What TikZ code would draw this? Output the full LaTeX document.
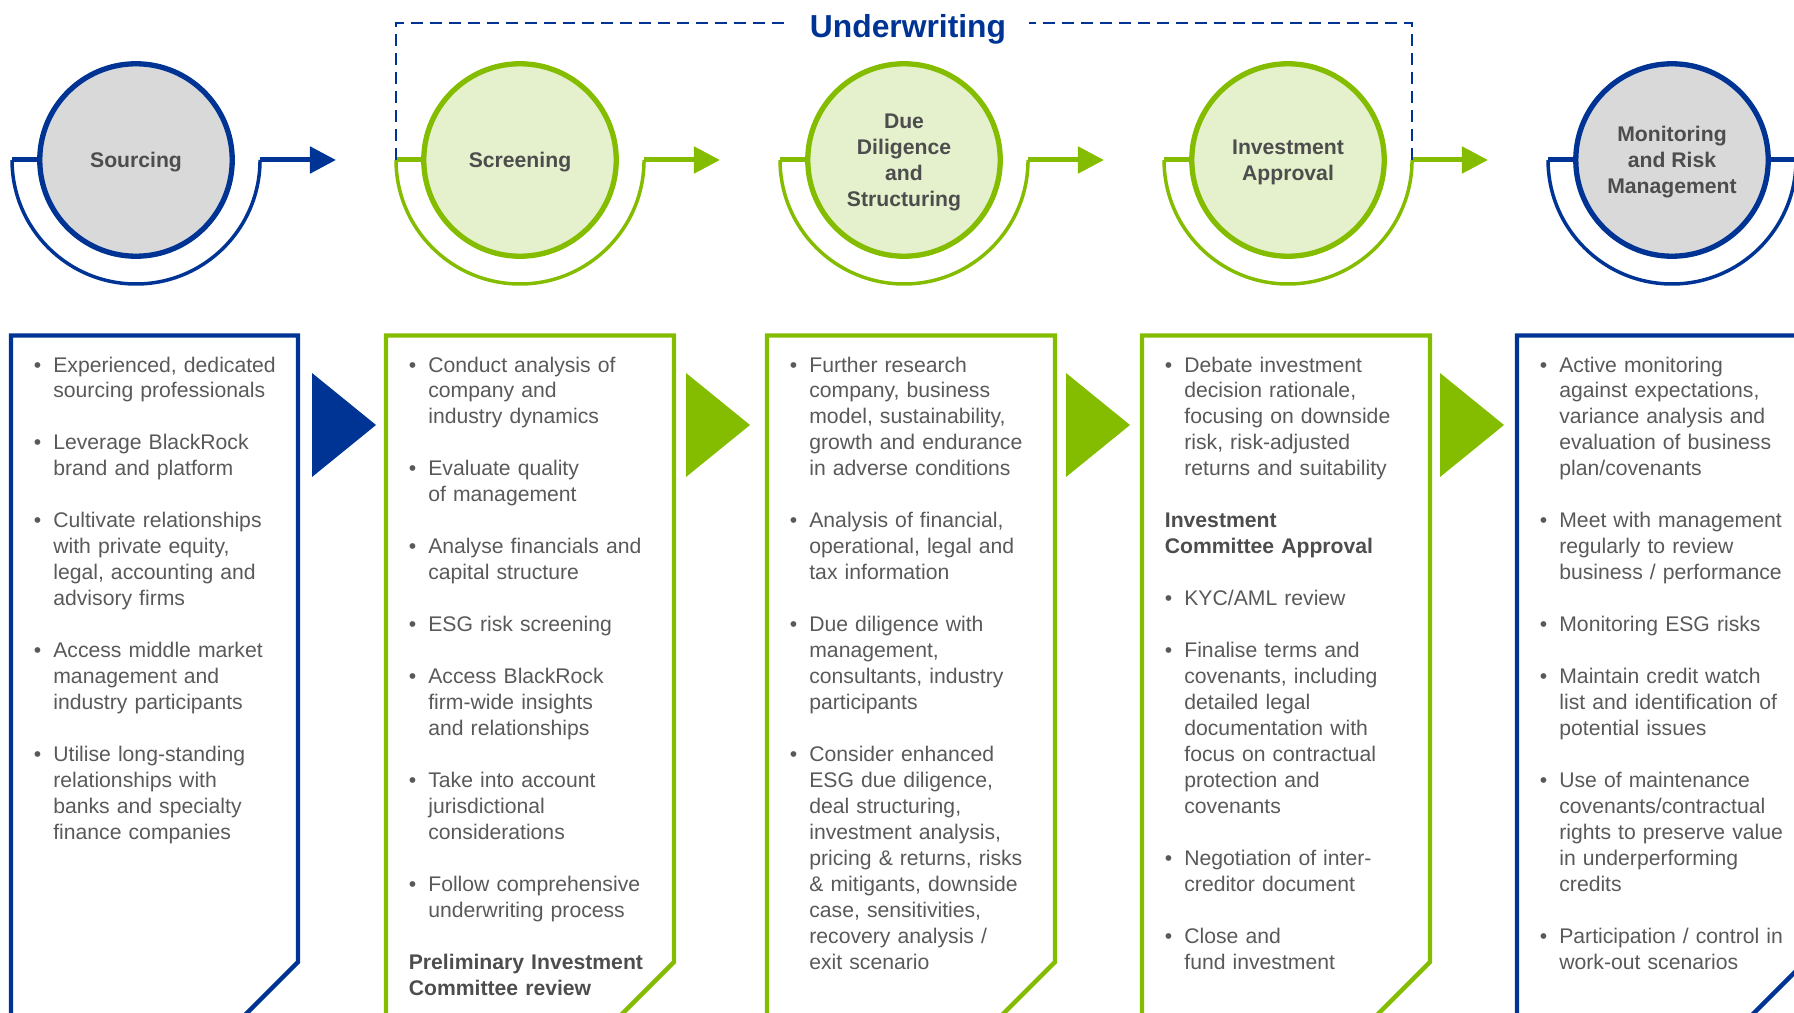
\documentclass[tikz,border=0pt]{standalone}
\usepackage{fontspec}
\setmainfont{Liberation Sans}
\usetikzlibrary{arrows.meta}

\definecolor{navy}{RGB}{0,52,148}
\definecolor{lime}{RGB}{132,189,0}
\definecolor{limefill}{RGB}{229,241,204}
\definecolor{greyfill}{RGB}{217,217,217}
\definecolor{bodygrey}{RGB}{89,89,89}
\definecolor{labelgrey}{RGB}{77,77,77}

\newcommand*{\bodyfont}{\fontsize{12.05}{14.78}\selectfont}
\newcommand*{\titlefont}{\fontsize{18.1}{21}\selectfont\bfseries}
\newcommand*{\bul}[1]{\hangindent=0.39cm\hangafter=1\noindent\makebox[0.39cm][l]{\textbullet}#1\par}
\newcommand*{\hed}[1]{\noindent{\bfseries\color{labelgrey}#1}\par}

\tikzstyle{canvas}=[x=0.02cm, y=0.02cm]
\tikzstyle{stage}=[circle, minimum size=3.85cm, inner sep=0pt, text depth=0pt, line width=0.106cm, font=\bodyfont\bfseries, text=labelgrey, align=center]
\tikzstyle{bluestage}=[stage, draw=navy, fill=greyfill]
\tikzstyle{greenstage}=[stage, draw=lime, fill=limefill]
\tikzstyle{shoe}=[line width=0.07cm]
\tikzstyle{hbar}=[line width=0.1cm]
\tikzstyle{headarrow}=[-{Triangle[length=0.52cm,width=0.52cm]}]
\tikzstyle{panel}=[line width=0.086cm]
\tikzstyle{bracket}=[navy, line width=0.04cm, dash pattern=on 0.24cm off 0.14cm]
\tikzstyle{bullets}=[anchor=base west, inner sep=0pt, text width=5.4cm, align=left, font=\bodyfont, text=bodygrey, execute at begin node={\setlength{\parskip}{14.78pt}}]

\begin{document}
\begin{tikzpicture}[canvas]
    \useasboundingbox (0,0) rectangle (1794,-1013);

    \node [bluestage] (src) at (136,-160) {Sourcing};
    \node [greenstage] (scr) at (520,-160) {Screening};
    \node [greenstage] (dd) at (904,-160) {Due\\Diligence\\and\\Structuring};
    \node [greenstage] (ia) at (1288,-160) {Investment\\Approval};
    \node [bluestage] (mon) at (1672,-160) {Monitoring\\and Risk\\Management};

    \draw [shoe, navy] ([xshift=-2.48cm]src.center) arc [start angle=180, end angle=360, radius=124];
    \draw [hbar, navy] ([xshift=-2.48cm]src.center) -- (src.west);
    \draw [hbar, navy, headarrow] ([xshift=2.48cm]src.center) -- ([xshift=4cm]src.center);

    \draw [shoe, lime] ([xshift=-2.48cm]scr.center) arc [start angle=180, end angle=360, radius=124];
    \draw [hbar, lime] ([xshift=-2.48cm]scr.center) -- (scr.west);
    \draw [hbar, lime, headarrow] ([xshift=2.48cm]scr.center) -- ([xshift=4cm]scr.center);

    \draw [shoe, lime] ([xshift=-2.48cm]dd.center) arc [start angle=180, end angle=360, radius=124];
    \draw [hbar, lime] ([xshift=-2.48cm]dd.center) -- (dd.west);
    \draw [hbar, lime, headarrow] ([xshift=2.48cm]dd.center) -- ([xshift=4cm]dd.center);

    \draw [shoe, lime] ([xshift=-2.48cm]ia.center) arc [start angle=180, end angle=360, radius=124];
    \draw [hbar, lime] ([xshift=-2.48cm]ia.center) -- (ia.west);
    \draw [hbar, lime, headarrow] ([xshift=2.48cm]ia.center) -- ([xshift=4cm]ia.center);

    \draw [shoe, navy] ([xshift=-2.48cm]mon.center) arc [start angle=180, end angle=360, radius=124];
    \draw [hbar, navy] ([xshift=-2.48cm]mon.center) -- (mon.west);
    \draw [hbar, navy] (mon.east) -- ([xshift=2.6cm]mon.center);

    \node [font=\titlefont, text=navy, inner xsep=0.45cm, inner ysep=0pt, anchor=base] (uw) at (908,-37.5) {Underwriting};
    \coordinate (uwtop) at (0,-23);
    \draw [bracket] ([xshift=-2.48cm]scr.center) |- (uw.west |- uwtop);
    \draw [bracket] ([xshift=2.48cm]ia.center) |- (uw.east |- uwtop);

    \draw [panel, navy] (11,-1040) |- (298,-335.5) -- (298,-962) -- ++(-80,-80);
    \draw [panel, lime] (386,-1040) |- (674,-335.5) -- (674,-962) -- ++(-80,-80);
    \draw [panel, lime] (767,-1040) |- (1055,-335.5) -- (1055,-962) -- ++(-80,-80);
    \draw [panel, lime] (1142,-1040) |- (1430,-335.5) -- (1430,-962) -- ++(-80,-80);
    \draw [panel, navy] (1517,-1040) |- (1805,-335.5) -- (1805,-962) -- ++(-80,-80);

    \fill [navy] (312,-373) -- (376,-425) -- (312,-477) -- cycle;
    \fill [lime] (686,-373) -- (750,-425) -- (686,-477) -- cycle;
    \fill [lime] (1066,-373) -- (1130,-425) -- (1066,-477) -- cycle;
    \fill [lime] (1440,-373) -- (1504,-425) -- (1440,-477) -- cycle;

    \node [bullets] (srctxt) at (33.5,-372) {%
        \bul{Experienced, dedicated\newline sourcing professionals}
        \bul{Leverage BlackRock\newline brand and platform}
        \bul{Cultivate relationships\newline with private equity,\newline legal, accounting and\newline advisory firms}
        \bul{Access middle market\newline management and\newline industry participants}
        \bul{Utilise long-standing\newline relationships with\newline banks and specialty\newline finance companies}};

    \node [bullets] (scrtxt) at (408.5,-372) {%
        \bul{Conduct analysis of\newline company and\newline industry dynamics}
        \bul{Evaluate quality\newline of management}
        \bul{Analyse financials and\newline capital structure}
        \bul{ESG risk screening}
        \bul{Access BlackRock\newline firm-wide insights\newline and relationships}
        \bul{Take into account\newline jurisdictional\newline considerations}
        \bul{Follow comprehensive\newline underwriting process}
        \hed{Preliminary Investment\newline Committee review}};

    \node [bullets] (ddtxt) at (789.5,-372) {%
        \bul{Further research\newline company, business\newline model, sustainability,\newline growth and endurance\newline in adverse conditions}
        \bul{Analysis of financial,\newline operational, legal and\newline tax information}
        \bul{Due diligence with\newline management,\newline consultants, industry\newline participants}
        \bul{Consider enhanced\newline ESG due diligence,\newline deal structuring,\newline investment analysis,\newline pricing \& returns, risks\newline \& mitigants, downside\newline case, sensitivities,\newline recovery analysis /\newline exit scenario}};

    \node [bullets] (iatxt) at (1164.5,-372) {%
        \bul{Debate investment\newline decision rationale,\newline focusing on downside\newline risk, risk-adjusted\newline returns and suitability}
        \hed{Investment\newline Committee Approval}
        \bul{KYC/AML review}
        \bul{Finalise terms and\newline covenants, including\newline detailed legal\newline documentation with\newline focus on contractual\newline protection and\newline covenants}
        \bul{Negotiation of inter-\newline creditor document}
        \bul{Close and\newline fund investment}};

    \node [bullets] (montxt) at (1539.5,-372) {%
        \bul{Active monitoring\newline against expectations,\newline variance analysis and\newline evaluation of business\newline plan/covenants}
        \bul{Meet with management\newline regularly to review\newline business / performance}
        \bul{Monitoring ESG risks}
        \bul{Maintain credit watch\newline list and identification of\newline potential issues}
        \bul{Use of maintenance\newline covenants/contractual\newline rights to preserve value\newline in underperforming\newline credits}
        \bul{Participation / control in\newline work-out scenarios}};
\end{tikzpicture}
\end{document}
